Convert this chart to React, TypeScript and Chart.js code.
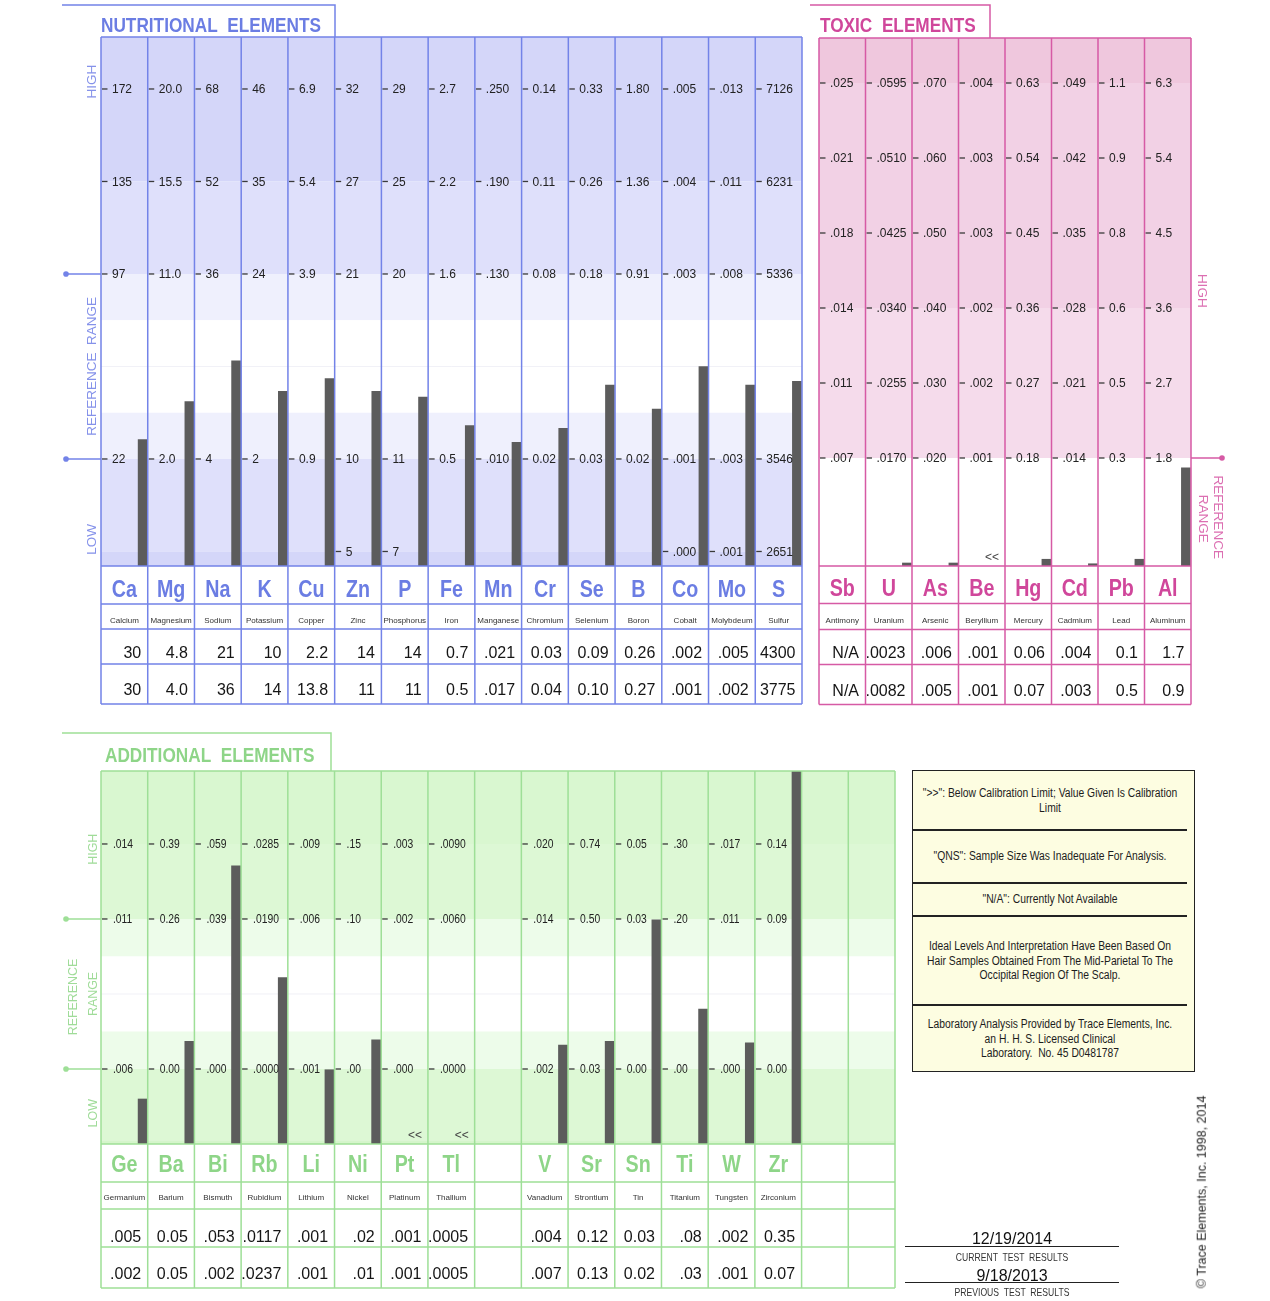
import { useEffect, useRef } from 'react';
import { Chart, registerables } from 'chart.js';

Chart.register(...registerables);

const PAGE_W = 1270;
const PAGE_H = 1301;
const SANS = '"Liberation Sans", Arial, Helvetica, sans-serif';
const BAR_W = 9;
const BAR_COLOR = '#5c5c5c';

// ================= NUTRITIONAL ELEMENTS =================
const nutSymbols = ['Ca', 'Mg', 'Na', 'K', 'Cu', 'Zn', 'P', 'Fe', 'Mn', 'Cr', 'Se', 'B', 'Co', 'Mo', 'S'];
const nutNames = ['Calcium', 'Magnesium', 'Sodium', 'Potassium', 'Copper', 'Zinc', 'Phosphorus', 'Iron', 'Manganese', 'Chromium', 'Selenium', 'Boron', 'Cobalt', 'Molybdeum', 'Sulfur'];
const nutCurrent = ['30', '4.8', '21', '10', '2.2', '14', '14', '0.7', '.021', '0.03', '0.09', '0.26', '.002', '.005', '4300'];
const nutPrevious = ['30', '4.0', '36', '14', '13.8', '11', '11', '0.5', '.017', '0.04', '0.10', '0.27', '.001', '.002', '3775'];
// bar heights in reference-grid steps (step 0 = lowest printed level)
const nutBarLevel = [1.21, 1.62, 2.06, 1.73, 1.87, 1.73, 1.67, 1.36, 1.18, 1.33, 1.80, 1.54, 2.00, 1.80, 1.84];
const nutTicksL0 = ['', '', '', '', '', '5', '7', '', '', '', '', '', '.000', '.001', '2651'];
const nutTicksL1 = ['22', '2.0', '4', '2', '0.9', '10', '11', '0.5', '.010', '0.02', '0.03', '0.02', '.001', '.003', '3546'];
const nutTicksL3 = ['97', '11.0', '36', '24', '3.9', '21', '20', '1.6', '.130', '0.08', '0.18', '0.91', '.003', '.008', '5336'];
const nutTicksL4 = ['135', '15.5', '52', '35', '5.4', '27', '25', '2.2', '.190', '0.11', '0.26', '1.36', '.004', '.011', '6231'];
const nutTicksL5 = ['172', '20.0', '68', '46', '6.9', '32', '29', '2.7', '.250', '0.14', '0.33', '1.80', '.005', '.013', '7126'];
const nutFlags = nutSymbols.map(() => false);

// ================= TOXIC ELEMENTS =================
const toxSymbols = ['Sb', 'U', 'As', 'Be', 'Hg', 'Cd', 'Pb', 'Al'];
const toxNames = ['Antimony', 'Uranium', 'Arsenic', 'Beryllium', 'Mercury', 'Cadmium', 'Lead', 'Aluminum'];
const toxCurrent = ['N/A', '.0023', '.006', '.001', '0.06', '.004', '0.1', '1.7'];
const toxPrevious = ['N/A', '.0082', '.005', '.001', '0.07', '.003', '0.5', '0.9'];
const toxBarLevel: (number | null)[] = [null, -1.40, -1.40, null, -1.35, -1.41, -1.35, -0.13];
const toxTicksL0 = ['.007', '.0170', '.020', '.001', '0.18', '.014', '0.3', '1.8'];
const toxTicksL1 = ['.011', '.0255', '.030', '.002', '0.27', '.021', '0.5', '2.7'];
const toxTicksL2 = ['.014', '.0340', '.040', '.002', '0.36', '.028', '0.6', '3.6'];
const toxTicksL3 = ['.018', '.0425', '.050', '.003', '0.45', '.035', '0.8', '4.5'];
const toxTicksL4 = ['.021', '.0510', '.060', '.003', '0.54', '.042', '0.9', '5.4'];
const toxTicksL5 = ['.025', '.0595', '.070', '.004', '0.63', '.049', '1.1', '6.3'];
const toxFlags = [false, false, false, true, false, false, false, false];

// ================= ADDITIONAL ELEMENTS =================
const addSymbols = ['Ge', 'Ba', 'Bi', 'Rb', 'Li', 'Ni', 'Pt', 'Tl', '', 'V', 'Sr', 'Sn', 'Ti', 'W', 'Zr', '', ''];
const addNames = ['Germanium', 'Barium', 'Bismuth', 'Rubidium', 'Lithium', 'Nickel', 'Platinum', 'Thallium', '', 'Vanadium', 'Strontium', 'Tin', 'Titanium', 'Tungsten', 'Zirconium', '', ''];
const addCurrent = ['.005', '0.05', '.053', '.0117', '.001', '.02', '.001', '.0005', '', '.004', '0.12', '0.03', '.08', '.002', '0.35', '', ''];
const addPrevious = ['.002', '0.05', '.002', '.0237', '.001', '.01', '.001', '.0005', '', '.007', '0.13', '0.02', '.03', '.001', '0.07', '', ''];
const addBarLevel: (number | null)[] = [-0.40, 0.37, 2.71, 1.22, -0.01, 0.39, null, null, null, 0.32, 0.37, 1.99, 0.80, 0.35, 4.2, null, null];
const addTicksL0 = ['.006', '0.00', '.000', '.0000', '.001', '.00', '.000', '.0000', '', '.002', '0.03', '0.00', '.00', '.000', '0.00', '', ''];
const addTicksL2 = ['.011', '0.26', '.039', '.0190', '.006', '.10', '.002', '.0060', '', '.014', '0.50', '0.03', '.20', '.011', '0.09', '', ''];
const addTicksL3 = ['.014', '0.39', '.059', '.0285', '.009', '.15', '.003', '.0090', '', '.020', '0.74', '0.05', '.30', '.017', '0.14', '', ''];
const addFlags = [false, false, false, false, false, false, true, true, false, false, false, false, false, false, false, false, false];

// ================= NOTES / FOOTER =================
const noteLines = [
  '">>": Below Calibration Limit; Value Given Is Calibration',
  'Limit',
  '"QNS": Sample Size Was Inadequate For Analysis.',
  '"N/A": Currently Not Available',
  'Ideal Levels And Interpretation Have Been Based On',
  'Hair Samples Obtained From The Mid-Parietal To The',
  'Occipital Region Of The Scalp.',
  'Laboratory Analysis Provided by Trace Elements, Inc.',
  'an H. H. S. Licensed Clinical',
  'Laboratory.  No. 45 D0481787',
];
const noteLineY = [793, 807.5, 856, 899, 946, 960.5, 975, 1024, 1038.5, 1053];
const noteSeparatorsY = [830, 883, 916, 1005];
const currentDate = '12/19/2014';
const previousDate = '9/18/2013';

type SideLabel = { text: string; x: number; level: number };
interface Panel {
  key: string;
  title: string;
  titleX: number;
  titleBase: number;
  tab: [number, number, number];
  plot: { left: number; right: number; top: number; bottom: number };
  yMin: number;
  yMax: number;
  symbols: string[];
  names: string[];
  current: string[];
  previous: string[];
  bars: (number | null)[];
  flags: boolean[];
  ticks: { level: number; labels: string[] }[];
  bands: [number, number, string][];
  faint: number[];
  rows: number[];
  rowBase: number[];
  line: string;
  accent: string;
  sideColor: string;
  tickSx: number;
  tickDx: number;
  refLevels: number[];
  refEnd: number;
  refSide: 'left' | 'right';
  sideLabels: SideLabel[];
  sideRot: number;
  sideSize: number;
  sideSx: number;
}

const nutPanel: Panel = {
  key: 'nut',
  title: 'NUTRITIONAL  ELEMENTS',
  titleX: 101,
  titleBase: 31.5,
  tab: [62, 5, 335],
  plot: { left: 101, right: 802, top: 37, bottom: 566 },
  yMin: -0.157,
  yMax: 5.562,
  symbols: nutSymbols,
  names: nutNames,
  current: nutCurrent,
  previous: nutPrevious,
  bars: nutBarLevel,
  flags: nutFlags,
  ticks: [
    { level: 0, labels: nutTicksL0 },
    { level: 1, labels: nutTicksL1 },
    { level: 3, labels: nutTicksL3 },
    { level: 4, labels: nutTicksL4 },
    { level: 5, labels: nutTicksL5 },
  ],
  bands: [
    [4, 99, '#d4d6f9'],
    [3, 4, '#dfe0fb'],
    [2.5, 3, '#eff0fd'],
    [1.5, 2.5, '#ffffff'],
    [1, 1.5, '#eff0fd'],
    [0, 1, '#dfe0fb'],
    [-99, 0, '#d4d6f9'],
  ],
  faint: [2],
  rows: [38, 25, 35, 40],
  rowBase: [31, 19, 28.5, 30.7],
  line: '#7383e8',
  accent: '#6b7de3',
  sideColor: '#8592ea',
  tickSx: 1,
  tickDx: 11,
  refLevels: [1, 3],
  refEnd: 66,
  refSide: 'left',
  sideLabels: [
    { text: 'HIGH', x: 92.5, level: 5.08 },
    { text: 'REFERENCE  RANGE', x: 92.5, level: 2.0 },
    { text: 'LOW', x: 92.5, level: 0.13 },
  ],
  sideRot: -Math.PI / 2,
  sideSize: 13.5,
  sideSx: 1,
};

const toxPanel: Panel = {
  key: 'tox',
  title: 'TOXIC  ELEMENTS',
  titleX: 820,
  titleBase: 31.5,
  tab: [810, 5, 990],
  plot: { left: 819, right: 1191, top: 38, bottom: 566 },
  yMin: -1.44,
  yMax: 5.6,
  symbols: toxSymbols,
  names: toxNames,
  current: toxCurrent,
  previous: toxPrevious,
  bars: toxBarLevel,
  flags: toxFlags,
  ticks: [
    { level: 0, labels: toxTicksL0 },
    { level: 1, labels: toxTicksL1 },
    { level: 2, labels: toxTicksL2 },
    { level: 3, labels: toxTicksL3 },
    { level: 4, labels: toxTicksL4 },
    { level: 5, labels: toxTicksL5 },
  ],
  bands: [
    [5, 99, '#efc7dd'],
    [2, 5, '#f2d1e5'],
    [0, 2, '#f5dbeb'],
    [-99, 0, '#ffffff'],
  ],
  faint: [],
  rows: [37.5, 26, 35, 40],
  rowBase: [30, 19.5, 28, 31],
  line: '#d65aa5',
  accent: '#d0479b',
  sideColor: '#dc6fb2',
  tickSx: 1,
  tickDx: 11,
  refLevels: [0],
  refEnd: 1222,
  refSide: 'right',
  sideLabels: [
    { text: 'HIGH', x: 1202, level: 2.23 },
    { text: 'REFERENCE', x: 1218, level: -0.79 },
    { text: 'RANGE', x: 1203, level: -0.81 },
  ],
  sideRot: Math.PI / 2,
  sideSize: 13.5,
  sideSx: 1,
};

const addPanel: Panel = {
  key: 'add',
  title: 'ADDITIONAL  ELEMENTS',
  titleX: 105,
  titleBase: 761.5,
  tab: [62, 733, 331],
  plot: { left: 101, right: 895, top: 771, bottom: 1144 },
  yMin: -1.0,
  yMax: 3.973,
  symbols: addSymbols,
  names: addNames,
  current: addCurrent,
  previous: addPrevious,
  bars: addBarLevel,
  flags: addFlags,
  ticks: [
    { level: 0, labels: addTicksL0 },
    { level: 2, labels: addTicksL2 },
    { level: 3, labels: addTicksL3 },
  ],
  bands: [
    [3, 99, '#d9f7d0'],
    [2, 3, '#ddf8d5'],
    [1.5, 2, '#edfcea'],
    [0.5, 1.5, '#ffffff'],
    [0, 0.5, '#edfcea'],
    [-0.95, 0, '#ddf8d5'],
    [-99, -0.95, '#d5f5cb'],
  ],
  faint: [1],
  rows: [38, 27, 38, 41],
  rowBase: [27.5, 18, 32.7, 31.7],
  line: '#9edf97',
  accent: '#8ed588',
  sideColor: '#a0dc99',
  tickSx: 0.86,
  tickDx: 12,
  refLevels: [0, 2],
  refEnd: 66,
  refSide: 'left',
  sideLabels: [
    { text: 'HIGH', x: 93, level: 2.93 },
    { text: 'REFERENCE', x: 73, level: 0.96 },
    { text: 'RANGE', x: 93, level: 1.0 },
    { text: 'LOW', x: 93, level: -0.59 },
  ],
  sideRot: -Math.PI / 2,
  sideSize: 13.5,
  sideSx: 0.92,
};

type TextOpts = {
  size: number;
  bold?: boolean;
  color: string;
  align?: CanvasTextAlign;
  baseline?: CanvasTextBaseline;
  sx?: number;
  rot?: number;
};

function drawText(ctx: CanvasRenderingContext2D, s: string, x: number, y: number, o: TextOpts) {
  ctx.save();
  ctx.translate(x, y);
  if (o.rot) ctx.rotate(o.rot);
  ctx.scale(o.sx ?? 1, 1);
  ctx.font = `${o.bold ? 'bold ' : ''}${o.size}px ${SANS}`;
  ctx.fillStyle = o.color;
  ctx.textAlign = o.align ?? 'left';
  ctx.textBaseline = o.baseline ?? 'alphabetic';
  ctx.fillText(s, 0, 0);
  ctx.restore();
}

function panelPlugin(p: Panel) {
  return {
    id: `panel_${p.key}`,
    afterDatasetsUpdate(chart: any) {
      const a = chart.chartArea;
      const cw = (a.right - a.left) / p.symbols.length;
      const shift = cw / 2 - BAR_W / 2 - 0.6;
      chart.getDatasetMeta(0).data.forEach((el: any) => {
        el.x += shift;
      });
    },
    beforeDatasetsDraw(chart: any) {
      const { ctx, chartArea: a } = chart;
      const y = chart.scales.y;
      ctx.save();
      for (const [from, to, color] of p.bands) {
        const top = y.getPixelForValue(Math.min(to, p.yMax));
        const bot = y.getPixelForValue(Math.max(from, p.yMin));
        ctx.fillStyle = color;
        ctx.fillRect(a.left, top, a.right - a.left, bot - top);
      }
      ctx.strokeStyle = 'rgba(230,230,240,0.6)';
      ctx.lineWidth = 1;
      for (const lv of p.faint) {
        const py = y.getPixelForValue(lv);
        ctx.beginPath();
        ctx.moveTo(a.left, py);
        ctx.lineTo(a.right, py);
        ctx.stroke();
      }
      ctx.restore();
    },
    afterDatasetsDraw(chart: any) {
      const { ctx, chartArea: a } = chart;
      const xs = chart.scales.x;
      const ys = chart.scales.y;
      const n = p.symbols.length;
      const cw = (a.right - a.left) / n;
      const colLeft = (i: number) => xs.getPixelForValue(i) - cw / 2;
      const rowTops = [a.bottom];
      p.rows.forEach((h) => rowTops.push(rowTops[rowTops.length - 1] + h));
      const tableBottom = rowTops[rowTops.length - 1];
      ctx.save();

      // per-column scale labels
      for (const t of p.ticks) {
        const py = ys.getPixelForValue(t.level);
        t.labels.forEach((s, i) => {
          if (!s) return;
          const lx = colLeft(i);
          ctx.strokeStyle = '#3a3a3a';
          ctx.lineWidth = 1.3;
          ctx.beginPath();
          ctx.moveTo(lx + 1, py);
          ctx.lineTo(lx + 6.5, py);
          ctx.stroke();
          drawText(ctx, s, lx + p.tickDx, py + 4.3, { size: 12, color: '#222', sx: p.tickSx });
        });
      }

      // below-calibration markers
      p.flags.forEach((f, i) => {
        if (f) drawText(ctx, '<<', colLeft(i) + cw - 6, a.bottom - 5, { size: 12, color: '#444', align: 'right' });
      });

      // table text
      p.symbols.forEach((s, i) => {
        const cx = xs.getPixelForValue(i);
        const right = colLeft(i) + cw;
        if (s) drawText(ctx, s, cx, rowTops[0] + p.rowBase[0], { size: 24, bold: true, color: p.accent, align: 'center', sx: 0.82 });
        if (p.names[i]) drawText(ctx, p.names[i], cx, rowTops[1] + p.rowBase[1], { size: 8, color: '#333', align: 'center' });
        if (p.current[i]) drawText(ctx, p.current[i], right - 6.5, rowTops[2] + p.rowBase[2], { size: 16, color: '#151515', align: 'right' });
        if (p.previous[i]) drawText(ctx, p.previous[i], right - 6.5, rowTops[3] + p.rowBase[3], { size: 16, color: '#151515', align: 'right' });
      });

      // grid
      ctx.strokeStyle = p.line;
      ctx.lineWidth = 1.5;
      ctx.beginPath();
      for (let i = 0; i <= n; i++) {
        const lx = a.left + i * cw;
        ctx.moveTo(lx, a.top);
        ctx.lineTo(lx, tableBottom);
      }
      for (const ty of [a.top, ...rowTops]) {
        ctx.moveTo(a.left, ty);
        ctx.lineTo(a.right, ty);
      }
      // title tab
      ctx.moveTo(p.tab[0], p.tab[1]);
      ctx.lineTo(p.tab[2], p.tab[1]);
      ctx.lineTo(p.tab[2], a.top);
      ctx.stroke();
      drawText(ctx, p.title, p.titleX, p.titleBase, { size: 21, bold: true, color: p.accent, sx: 0.82 });

      // reference range markers
      ctx.strokeStyle = p.line;
      ctx.fillStyle = p.line;
      for (const lv of p.refLevels) {
        const py = ys.getPixelForValue(lv);
        const edge = p.refSide === 'left' ? a.left : a.right;
        ctx.beginPath();
        ctx.moveTo(p.refEnd, py);
        ctx.lineTo(edge, py);
        ctx.stroke();
        ctx.beginPath();
        ctx.arc(p.refEnd, py, 2.8, 0, Math.PI * 2);
        ctx.fill();
      }
      for (const sl of p.sideLabels) {
        drawText(ctx, sl.text, sl.x, ys.getPixelForValue(sl.level), {
          size: p.sideSize,
          color: p.sideColor,
          align: 'center',
          baseline: 'middle',
          rot: p.sideRot,
          sx: p.sideSx,
        });
      }
      ctx.restore();
    },
  };
}

function buildChart(canvas: HTMLCanvasElement, p: Panel) {
  return new Chart(canvas, {
    type: 'bar',
    data: {
      labels: p.symbols,
      datasets: [
        {
          data: p.bars.map((v) => (v == null ? null : [p.yMin, v])) as any,
          backgroundColor: BAR_COLOR,
          borderWidth: 0,
          barThickness: BAR_W,
        },
      ],
    },
    options: {
      responsive: false,
      animation: false,
      devicePixelRatio: 1,
      events: [],
      layout: {
        padding: {
          left: p.plot.left,
          right: PAGE_W - p.plot.right,
          top: p.plot.top,
          bottom: PAGE_H - p.plot.bottom,
        },
      },
      scales: {
        x: { display: false, offset: true },
        y: { display: false, min: p.yMin, max: p.yMax },
      },
      plugins: {
        legend: { display: false },
        tooltip: { enabled: false },
      },
    },
    plugins: [panelPlugin(p)],
  });
}

function Label(props: { text: string; cx: number; cy: number; size: number; sx?: number; rot?: number; color?: string }) {
  const { text, cx, cy, size, sx = 1, rot = 0, color = '#222' } = props;
  return (
    <div
      style={{
        position: 'absolute',
        left: cx,
        top: cy,
        transform: `translate(-50%, -50%) rotate(${rot}deg) scaleX(${sx})`,
        fontSize: size,
        lineHeight: `${size}px`,
        whiteSpace: 'pre',
        color,
        fontFamily: SANS,
      }}
    >
      {text}
    </div>
  );
}

export default function App() {
  const nutRef = useRef<HTMLCanvasElement>(null);
  const toxRef = useRef<HTMLCanvasElement>(null);
  const addRef = useRef<HTMLCanvasElement>(null);

  useEffect(() => {
    const charts = [
      buildChart(nutRef.current!, nutPanel),
      buildChart(toxRef.current!, toxPanel),
      buildChart(addRef.current!, addPanel),
    ];
    return () => charts.forEach((c) => c.destroy());
  }, []);

  const canvasStyle: React.CSSProperties = { position: 'absolute', left: 0, top: 0, width: PAGE_W, height: PAGE_H };

  return (
    <div style={{ position: 'absolute', left: 0, top: 0, width: PAGE_W, height: PAGE_H, background: '#fff', overflow: 'hidden' }}>
      <canvas ref={nutRef} width={PAGE_W} height={PAGE_H} style={canvasStyle} />
      <canvas ref={toxRef} width={PAGE_W} height={PAGE_H} style={canvasStyle} />
      <canvas ref={addRef} width={PAGE_W} height={PAGE_H} style={canvasStyle} />

      {/* notes box */}
      <div
        style={{
          position: 'absolute',
          left: 912,
          top: 770,
          width: 283,
          height: 302,
          background: '#fdfde1',
          border: '1.5px solid #222',
          boxSizing: 'border-box',
        }}
      />
      {noteSeparatorsY.map((y, i) => (
        <div key={i} style={{ position: 'absolute', left: 912, top: y - 1, width: 275, height: 2, background: '#222' }} />
      ))}
      {noteLines.map((t, i) => (
        <Label key={i} text={t} cx={1049.5} cy={noteLineY[i]} size={12} sx={0.86} color="#1c1c1c" />
      ))}

      {/* dates */}
      <Label text={currentDate} cx={1012} cy={1239} size={16} color="#111" />
      <div style={{ position: 'absolute', left: 905, top: 1245.5, width: 214, height: 1.6, background: '#222' }} />
      <Label text="CURRENT  TEST  RESULTS" cx={1012} cy={1257} size={10.5} sx={0.82} color="#333" />
      <Label text={previousDate} cx={1012} cy={1276} size={16} color="#111" />
      <div style={{ position: 'absolute', left: 905, top: 1281.5, width: 214, height: 1.6, background: '#222' }} />
      <Label text="PREVIOUS  TEST  RESULTS" cx={1012} cy={1292} size={10.5} sx={0.82} color="#333" />

      <Label text="© Trace Elements, Inc. 1998, 2014" cx={1202} cy={1192} size={12.5} rot={-90} color="#222" />
    </div>
  );
}
